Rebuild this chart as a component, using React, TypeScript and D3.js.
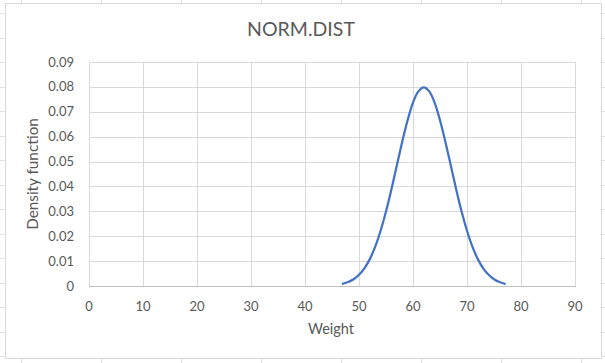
import React from "react";
import * as d3 from "d3";

const title = "NORM.DIST";
const xTitle = "Weight";
const yTitle = "Density function";

const xTicks = [0, 10, 20, 30, 40, 50, 60, 70, 80, 90];
const yTicks = [0, 0.01, 0.02, 0.03, 0.04, 0.05, 0.06, 0.07, 0.08, 0.09];

// weight values and density
const weights = [47, 48, 49, 50, 51, 52, 53, 54, 55, 56, 57, 58, 59, 60, 61, 62, 63, 64, 65, 66, 67, 68, 69, 70, 71, 72, 73, 74, 75, 76, 77];
const density = [
  0.0009, 0.0016, 0.0027, 0.0045, 0.0071, 0.0108, 0.0158, 0.0222, 0.0299, 0.0388, 0.0484,
  0.0579, 0.0666, 0.0737, 0.0782, 0.0798, 0.0782, 0.0737, 0.0666, 0.0579, 0.0484, 0.0388,
  0.0299, 0.0222, 0.0158, 0.0108, 0.0071, 0.0045, 0.0027, 0.0016, 0.0009,
];

const W = 605;
const H = 363;
const plot = { left: 89, right: 575, top: 62, bottom: 286 };
const font = "Lato, 'Open Sans', sans-serif";
const textColor = "#595959";

export default function App() {
  const x = d3.scaleLinear().domain([0, 90]).range([plot.left, plot.right]);
  const y = d3.scaleLinear().domain([0, 0.09]).range([plot.bottom, plot.top]);

  const points = weights.map((w, i) => ({ w, d: density[i] }));
  const line = d3
    .line<{ w: number; d: number }>()
    .x((p) => x(p.w))
    .y((p) => y(p.d))
    .curve(d3.curveCatmullRom);

  // spreadsheet cell lines behind the chart
  const cellCols = d3.range(21, W, 80);
  const cellRows = d3.range(13, H, 24.5);

  return (
    <svg
      width={W}
      height={H}
      style={{ position: "absolute", left: 0, top: 0, background: "#fff" }}
    >
      <g stroke="#e1e1e1" strokeWidth={1}>
        {cellCols.map((c) => (
          <line key={"c" + c} x1={c + 0.5} x2={c + 0.5} y1={0} y2={H} />
        ))}
        {cellRows.map((r) => (
          <line key={"r" + r} x1={0} x2={W} y1={Math.round(r) + 0.5} y2={Math.round(r) + 0.5} />
        ))}
      </g>
      <rect x={5.5} y={3.5} width={596} height={355} fill="#fff" stroke="#d9d9d9" />

      <text
        x={(plot.left + plot.right) / 2 - 31}
        y={36}
        textAnchor="middle"
        fontFamily={font}
        fontSize={19.5}
        fill={textColor}
      >
        {title}
      </text>

      <g stroke="#d9d9d9" strokeWidth={1}>
        {yTicks.slice(1).map((t) => (
          <line key={"y" + t} x1={plot.left} x2={plot.right} y1={Math.round(y(t)) + 0.5} y2={Math.round(y(t)) + 0.5} />
        ))}
        {xTicks.map((t) => (
          <line key={"x" + t} x1={Math.round(x(t)) + 0.5} x2={Math.round(x(t)) + 0.5} y1={plot.top} y2={plot.bottom} />
        ))}
      </g>
      <line
        x1={plot.left}
        x2={plot.right + 1}
        y1={plot.bottom + 0.5}
        y2={plot.bottom + 0.5}
        stroke="#bfbfbf"
      />

      <g fontFamily={font} fontSize={13} fill={textColor}>
        {yTicks.map((t) => (
          <text key={"yl" + t} x={plot.left - 15} y={y(t) + 4.5} textAnchor="end">
            {t === 0 ? "0" : t.toFixed(2)}
          </text>
        ))}
        {xTicks.map((t) => (
          <text key={"xl" + t} x={x(t)} y={310.5} textAnchor="middle">
            {t}
          </text>
        ))}
      </g>

      <text
        x={(plot.left + plot.right) / 2 - 1}
        y={334}
        textAnchor="middle"
        fontFamily={font}
        fontSize={14.5}
        fill={textColor}
      >
        {xTitle}
      </text>
      <text
        transform={`translate(38,${(plot.top + plot.bottom) / 2}) rotate(-90)`}
        textAnchor="middle"
        fontFamily={font}
        fontSize={15.3}
        fill={textColor}
      >
        {yTitle}
      </text>

      <path d={line(points) || ""} fill="none" stroke="#4472c4" strokeWidth={2.25} strokeLinecap="round" />
    </svg>
  );
}
